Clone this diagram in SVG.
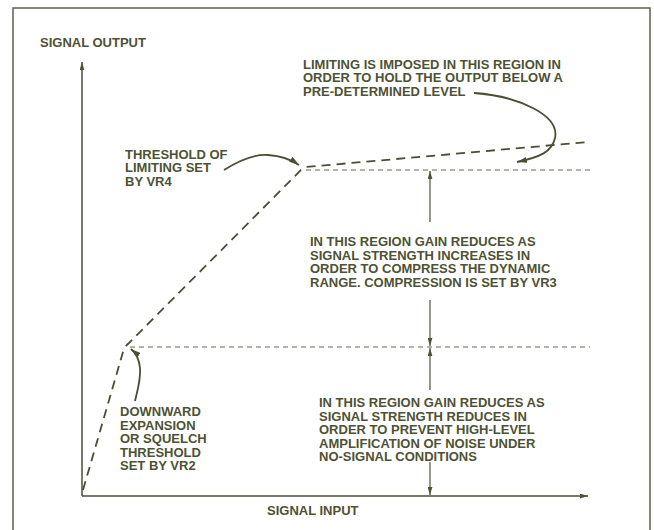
<svg xmlns="http://www.w3.org/2000/svg" width="654" height="530" viewBox="0 0 654 530">
<style>
.t{font-family:"Liberation Sans",Arial,sans-serif;font-weight:bold;font-size:13px;fill:#4e5234}
.ax{stroke:#4b4d3a;stroke-width:1.5;fill:none}
.cv{stroke:#4b4d35;stroke-width:1.8;fill:none;stroke-dasharray:9 6}
.dt{stroke:#6a6456;stroke-width:1;fill:none;stroke-dasharray:5 4}
.ar{stroke:#4f5236;stroke-width:1.2;fill:none}
.ca{stroke:#4b4d35;stroke-width:1.8;fill:none}
</style>
<defs>
<marker id="ah" viewBox="0 0 10 6" refX="10" refY="3" markerWidth="8" markerHeight="5" markerUnits="userSpaceOnUse" orient="auto">
<path d="M0,0 L10,3 L0,6 z" fill="#4f5236"/>
</marker>
<marker id="ahc" viewBox="0 0 10 6" refX="10" refY="3" markerWidth="10" markerHeight="6" markerUnits="userSpaceOnUse" orient="auto">
<path d="M0,0 L10,3 L0,6 z" fill="#4b4d35"/>
</marker>
</defs>
<rect x="0" y="0" width="654" height="530" fill="#ffffff"/>
<rect x="13" y="8" width="637" height="530" fill="none" stroke="#5e5d4e" stroke-width="1.5"/>

<g id="connectors">
<line class="ax" x1="82" y1="496" x2="82" y2="62" marker-end="url(#ah)"/>
<line class="ax" x1="82" y1="496" x2="588" y2="496" marker-end="url(#ah)"/>
<path class="cv" d="M83,490 L123,352 Q125,346 129,343 L300,171 Q302,168 306,167 L588,142"/>
<line class="dt" x1="306" y1="170" x2="590" y2="170"/>
<line class="dt" x1="130" y1="347" x2="590" y2="347"/>
<line class="ar" x1="430" y1="222" x2="430" y2="171" marker-end="url(#ah)"/>
<line class="ar" x1="430" y1="300" x2="430" y2="346" marker-end="url(#ah)"/>
<line class="ar" x1="430" y1="390" x2="430" y2="348" marker-end="url(#ah)"/>
<line class="ar" x1="430" y1="462" x2="430" y2="495" marker-end="url(#ah)"/>
<path class="ca" d="M474,93 C518,96 560,115 555,138 C552,152 540,157 517,162" marker-end="url(#ahc)"/>
<path class="ca" d="M224,170 C240,160 255,154 268,155 C282,156 292,160 299,165" marker-end="url(#ahc)"/>
<path class="ca" d="M135,401 C137,392 141,380 140,368 C139,358 136,353 131,349" marker-end="url(#ahc)"/>
</g>

<g id="label-signal-output"><text class="t" x="40" y="47">SIGNAL OUTPUT</text></g>
<g id="label-signal-input"><text class="t" x="267" y="515">SIGNAL INPUT</text></g>

<g id="note-limiting">
<text class="t" x="303" y="68.5">LIMITING IS IMPOSED IN THIS REGION IN</text>
<text class="t" x="303" y="82">ORDER TO HOLD THE OUTPUT BELOW A</text>
<text class="t" x="303" y="95.5">PRE-DETERMINED LEVEL</text>
</g>

<g id="note-threshold">
<text class="t" x="125" y="158.5">THRESHOLD OF</text>
<text class="t" x="125" y="172">LIMITING SET</text>
<text class="t" x="125" y="185.5">BY VR4</text>
</g>

<g id="note-compression">
<text class="t" x="310" y="246">IN THIS REGION GAIN REDUCES AS</text>
<text class="t" x="310" y="259.5">SIGNAL STRENGTH INCREASES IN</text>
<text class="t" x="310" y="273">ORDER TO COMPRESS THE DYNAMIC</text>
<text class="t" x="310" y="286.5">RANGE. COMPRESSION IS SET BY VR3</text>
</g>

<g id="note-expansion">
<text class="t" x="319" y="407">IN THIS REGION GAIN REDUCES AS</text>
<text class="t" x="319" y="420.5">SIGNAL STRENGTH REDUCES IN</text>
<text class="t" x="319" y="434">ORDER TO PREVENT HIGH-LEVEL</text>
<text class="t" x="319" y="447.5">AMPLIFICATION OF NOISE UNDER</text>
<text class="t" x="319" y="461">NO-SIGNAL CONDITIONS</text>
</g>

<g id="note-squelch">
<text class="t" x="120" y="416">DOWNWARD</text>
<text class="t" x="120" y="429.5">EXPANSION</text>
<text class="t" x="120" y="443">OR SQUELCH</text>
<text class="t" x="120" y="456.5">THRESHOLD</text>
<text class="t" x="120" y="470">SET BY VR2</text>
</g>
</svg>
